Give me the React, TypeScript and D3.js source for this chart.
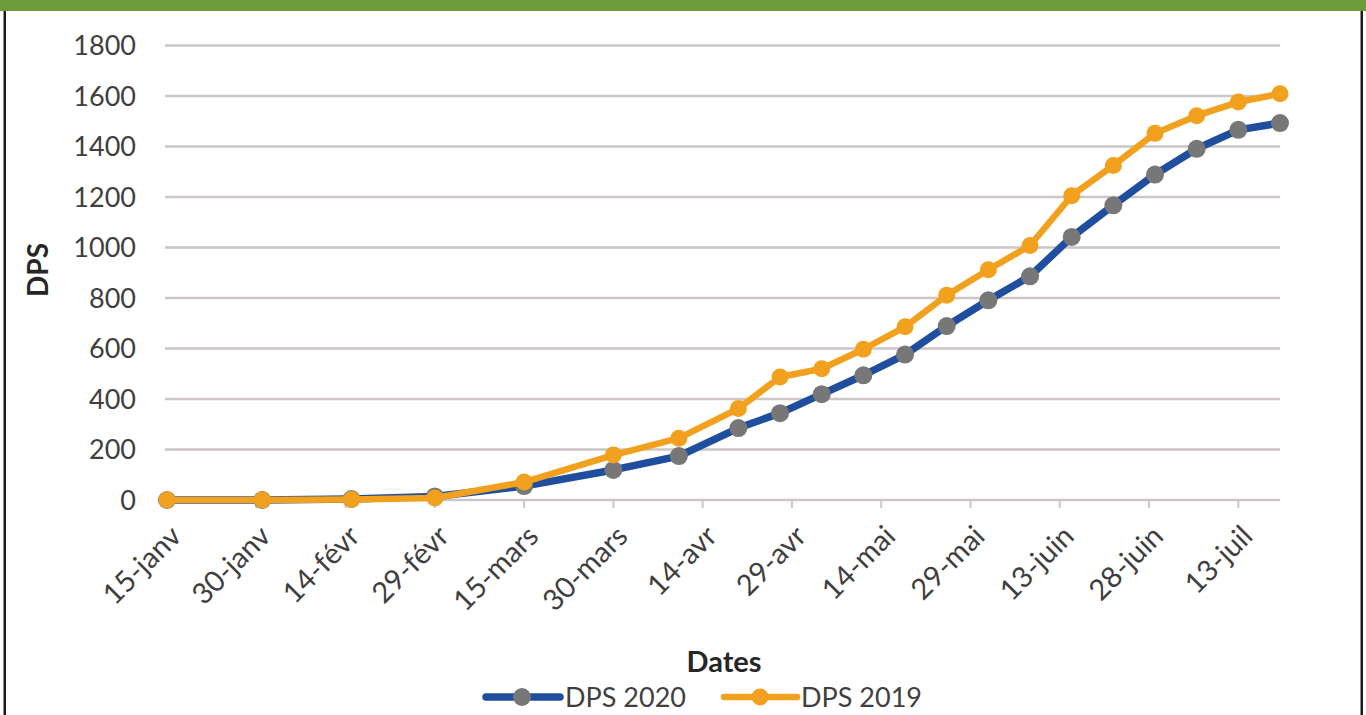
import { useMemo } from "react";
import * as d3 from "d3";

const WIDTH = 1366;
const HEIGHT = 715;
const MARGIN = { top: 45.5, right: 86, bottom: 215, left: 167 };
const FONT = "Lato, 'Open Sans', sans-serif";

// weekly observation dates (2020 calendar, leap year)
const dates = [
    "2020-01-15", "2020-01-31", "2020-02-15", "2020-02-29", "2020-03-15",
    "2020-03-30", "2020-04-10", "2020-04-20", "2020-04-27", "2020-05-04",
    "2020-05-11", "2020-05-18", "2020-05-25", "2020-06-01", "2020-06-08",
    "2020-06-15", "2020-06-22", "2020-06-29", "2020-07-06", "2020-07-13",
    "2020-07-20",
];
const dps2020 = [
    0, 0, 4, 14, 55, 119, 174, 285, 344, 419, 494, 576, 689, 791, 886,
    1042, 1167, 1289, 1391, 1466, 1493,
];
const dps2019 = [
    0, 0, 2, 8, 71, 178, 245, 362, 487, 520, 597, 686, 811, 912, 1008,
    1205, 1325, 1452, 1522, 1576, 1609,
];
const yTicks = [0, 200, 400, 600, 800, 1000, 1200, 1400, 1600, 1800];
const xTickDates = [
    "2020-01-15", "2020-01-30", "2020-02-14", "2020-02-29", "2020-03-15",
    "2020-03-30", "2020-04-14", "2020-04-29", "2020-05-14", "2020-05-29",
    "2020-06-13", "2020-06-28", "2020-07-13",
];
const xTickLabels = [
    "15-janv", "30-janv", "14-févr", "29-févr", "15-mars", "30-mars",
    "14-avr", "29-avr", "14-mai", "29-mai", "13-juin", "28-juin", "13-juil",
];

const BLUE = "#1f4e9e";
const GREY = "#777777";
const ORANGE = "#f2a11f";
const GRID = "#cdc6c6";
const TEXT = "#3f3f3f";

interface Point {
    date: Date;
    value: number;
}

const parse = d3.utcParse("%Y-%m-%d");

function App() {
    const boundsWidth = WIDTH - MARGIN.left - MARGIN.right;
    const boundsHeight = HEIGHT - MARGIN.top - MARGIN.bottom;

    const series2020: Point[] = dates.map((d, i) => ({ date: parse(d)!, value: dps2020[i] }));
    const series2019: Point[] = dates.map((d, i) => ({ date: parse(d)!, value: dps2019[i] }));

    const xScale = useMemo(() => {
        return d3
            .scaleUtc()
            .domain([parse(dates[0])!, parse(dates[dates.length - 1])!])
            .range([0, boundsWidth]);
    }, [boundsWidth]);

    const yScale = useMemo(() => {
        return d3.scaleLinear().domain([0, 1800]).range([boundsHeight, 0]);
    }, [boundsHeight]);

    const lineBuilder = d3
        .line<Point>()
        .x((d) => xScale(d.date))
        .y((d) => yScale(d.value));

    return (
        <div style={{ position: "fixed", left: 0, top: 0 }}>
            <svg width={WIDTH} height={HEIGHT} style={{ display: "block", background: "#ffffff" }}>
                {/* frame */}
                <rect x={0} y={0} width={WIDTH} height={11} fill="#6e9b3b" />
                <rect x={3.5} y={11} width={2.5} height={HEIGHT - 11} fill="#1c1c1c" />
                <rect x={1360.5} y={11} width={2.5} height={HEIGHT - 11} fill="#1c1c1c" />

                <g transform={`translate(${MARGIN.left},${MARGIN.top})`}>
                    {/* grid */}
                    {yTicks.map((t) => (
                        <g key={t}>
                            <line
                                x1={-2}
                                x2={boundsWidth}
                                y1={yScale(t)}
                                y2={yScale(t)}
                                stroke={GRID}
                                strokeWidth={2.5}
                            />
                            <text
                                x={-31}
                                y={yScale(t)}
                                dy="0.36em"
                                textAnchor="end"
                                fontFamily={FONT}
                                fontSize={27}
                                fill={TEXT}
                            >
                                {t}
                            </text>
                        </g>
                    ))}

                    {/* x ticks + labels */}
                    {xTickDates.map((d, i) => {
                        const x = xScale(parse(d)!);
                        return (
                            <g key={d}>
                                <line x1={x} x2={x} y1={boundsHeight} y2={boundsHeight + 8} stroke={GRID} strokeWidth={2} />
                                <text
                                    transform={`translate(${x + 16},${boundsHeight + 38}) rotate(-45)`}
                                    textAnchor="end"
                                    fontFamily={FONT}
                                    fontSize={29}
                                    fill={TEXT}
                                >
                                    {xTickLabels[i]}
                                </text>
                            </g>
                        );
                    })}

                    {/* DPS 2020 */}
                    <path d={lineBuilder(series2020) as string} fill="none" stroke={BLUE} strokeWidth={7.5} strokeLinejoin="round" />
                    {series2020.map((d, i) => (
                        <circle key={i} cx={xScale(d.date)} cy={yScale(d.value)} r={9} fill={GREY} />
                    ))}

                    {/* DPS 2019 */}
                    <path d={lineBuilder(series2019) as string} fill="none" stroke={ORANGE} strokeWidth={6.5} strokeLinejoin="round" />
                    {series2019.map((d, i) => (
                        <circle key={i} cx={xScale(d.date)} cy={yScale(d.value)} r={8.5} fill={ORANGE} />
                    ))}
                </g>

                {/* axis titles */}
                <text
                    transform="translate(48,270) rotate(-90)"
                    textAnchor="middle"
                    fontFamily={FONT}
                    fontWeight="bold"
                    fontSize={28}
                    fill="#262626"
                >
                    DPS
                </text>
                <text x={724} y={672} textAnchor="middle" fontFamily={FONT} fontWeight="bold" fontSize={29} fill="#262626">
                    Dates
                </text>

                {/* legend */}
                <g>
                    <line x1={486} x2={560} y1={697} y2={697} stroke={BLUE} strokeWidth={7.5} strokeLinecap="round" />
                    <circle cx={522} cy={697} r={9} fill={GREY} />
                    <text x={565} y={707} fontFamily={FONT} fontSize={27} fill={TEXT}>
                        DPS 2020
                    </text>
                    <line x1={724} x2={797} y1={697} y2={697} stroke={ORANGE} strokeWidth={6.5} strokeLinecap="round" />
                    <circle cx={760} cy={697} r={8.5} fill={ORANGE} />
                    <text x={801} y={707} fontFamily={FONT} fontSize={27} fill={TEXT}>
                        DPS 2019
                    </text>
                </g>
            </svg>
        </div>
    );
}

export default App;
